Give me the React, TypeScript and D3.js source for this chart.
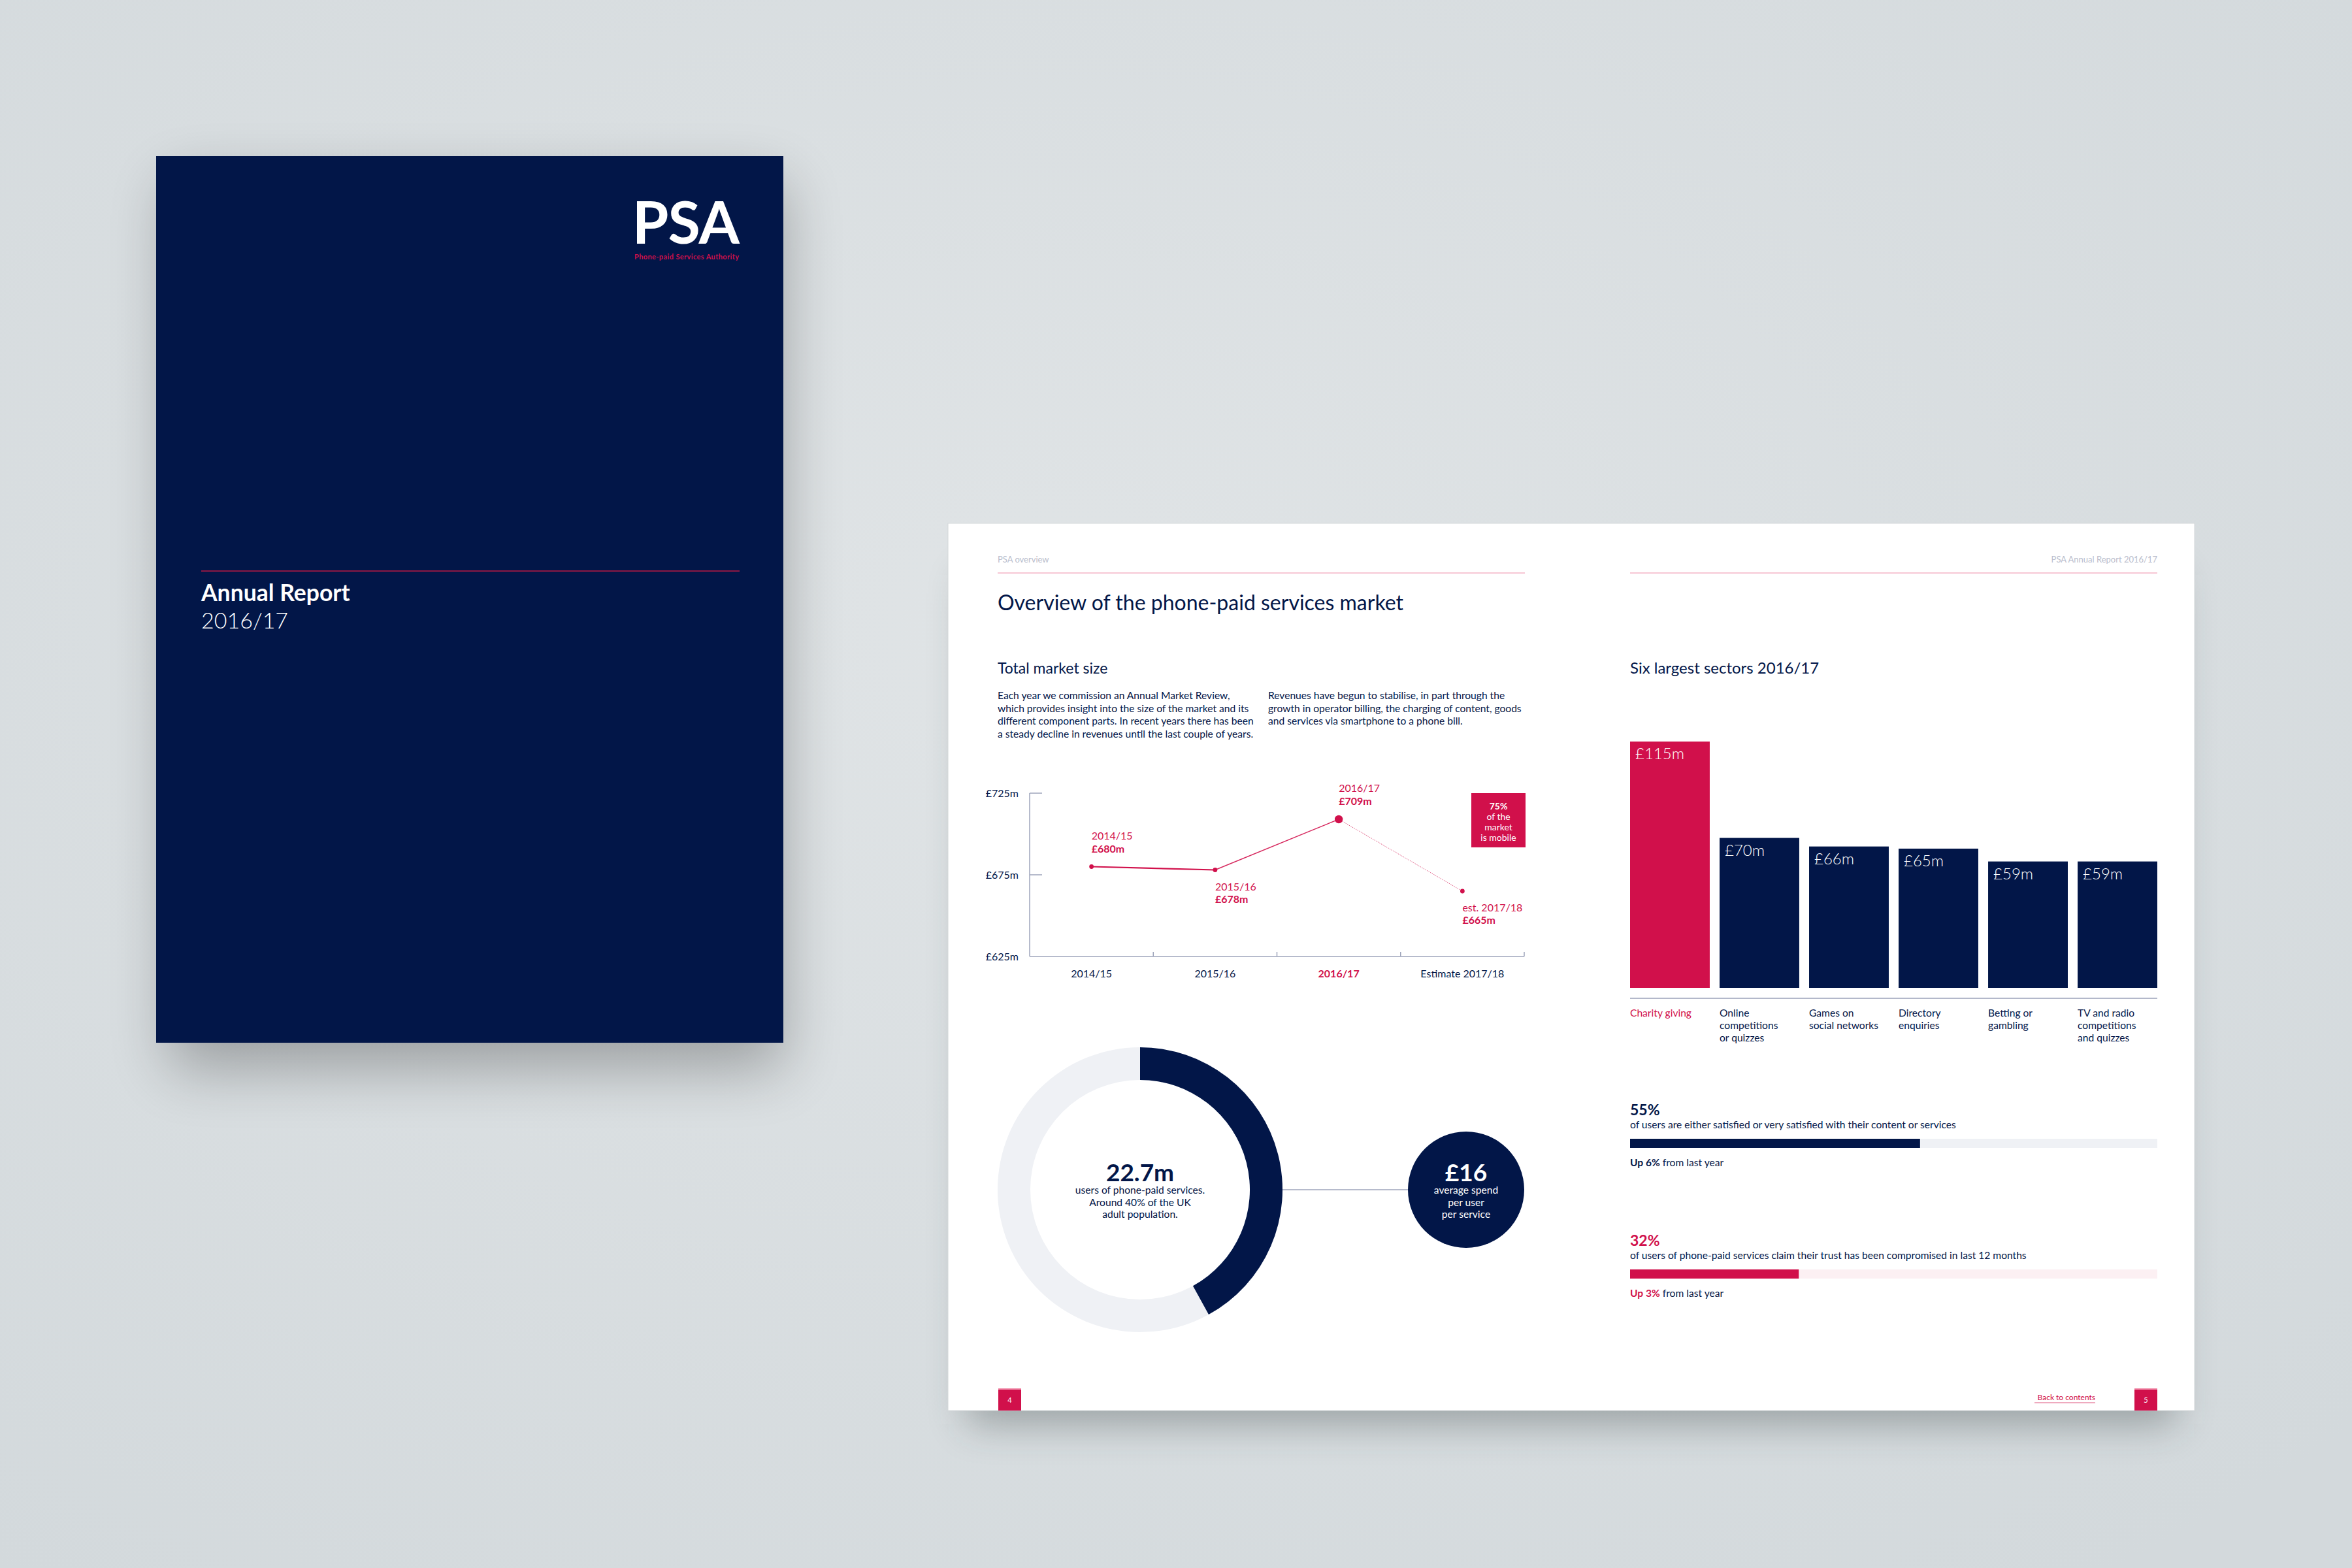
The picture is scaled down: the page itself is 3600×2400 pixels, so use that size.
import React from 'react';
import * as d3 from 'd3';

// ---- data ----
const marketYears = ['2014/15', '2015/16', '2016/17', 'Estimate 2017/18'];
const marketPointNames = ['2014/15', '2015/16', '2016/17', 'est. 2017/18'];
const marketValues = [680, 678, 709, 665];
const marketTicks = [625, 675, 725];
const highlightYear = '2016/17';

const sectorNames = [
  ['Charity giving'],
  ['Online', 'competitions', 'or quizzes'],
  ['Games on', 'social networks'],
  ['Directory', 'enquiries'],
  ['Betting or', 'gambling'],
  ['TV and radio', 'competitions', 'and quizzes'],
];
const sectorValues = [115, 70, 66, 65, 59, 59];

const usersMillions = 22.7;
const usersShare = 0.42;
const avgSpend = 16;

const satisfiedPct = 55;
const satisfiedChange = 6;
const trustPct = 32;
const trustChange = 3;

const introLeft = [
  'Each year we commission an Annual Market Review,',
  'which provides insight into the size of the market and its',
  'different component parts. In recent years there has been',
  'a steady decline in revenues until the last couple of years.',
];
const introRight = [
  'Revenues have begun to stabilise, in part through the',
  'growth in operator billing, the charging of content, goods',
  'and services via smartphone to a phone bill.',
];

const NAVY = '#021648';
const RED = '#d1104b';
const FONT = 'Lato, "Noto Sans", sans-serif';

const W = 3600;
const H = 2400;

export default function App() {
  // line chart scales
  const x = d3.scaleBand().domain(marketYears).range([1576, 2333]).padding(0);
  const y = d3.scaleLinear().domain([625, 725]).range([1464, 1214]);
  const pts = marketValues.map((v, i) => ({
    x: (x(marketYears[i]) as number) + x.bandwidth() / 2,
    y: y(v),
    v,
    name: marketPointNames[i],
  }));
  const line = d3.line<{ x: number; y: number }>().x((d) => d.x).y((d) => d.y);

  // bar chart scales
  const xb = d3
    .scaleBand<number>()
    .domain(sectorValues.map((_, i) => i))
    .range([2495, 3302])
    .paddingInner(0.11)
    .paddingOuter(0);
  const yb = d3.scaleLinear().domain([0, 115]).range([1512, 1135]);

  // progress bars
  const xp = d3.scaleLinear().domain([0, 100]).range([2495, 3302]);

  // donut
  const cx = 1745;
  const cy = 1821;
  const ring = d3.arc<any>().innerRadius(168).outerRadius(218);
  const fullRing = ring({ startAngle: 0, endAngle: Math.PI * 2 }) as string;
  const usersArc = ring({ startAngle: 0, endAngle: Math.PI * 2 * usersShare }) as string;

  const body = 15.6;

  return (
    <svg
      width={W}
      height={H}
      viewBox={`0 0 ${W} ${H}`}
      style={{ position: 'absolute', left: 0, top: 0, display: 'block' }}
      fontFamily={FONT}
    >
      <defs>
        <radialGradient id="bg" cx="45%" cy="40%" r="75%">
          <stop offset="0%" stopColor="#e0e4e6" />
          <stop offset="100%" stopColor="#d3d9dc" />
        </radialGradient>
        <filter id="soft" x="-30%" y="-30%" width="160%" height="160%">
          <feGaussianBlur stdDeviation="45" />
        </filter>
        <filter id="soft2" x="-30%" y="-30%" width="160%" height="160%">
          <feGaussianBlur stdDeviation="30" />
        </filter>
      </defs>

      <rect width={W} height={H} fill="url(#bg)" />

      {/* cover */}
      <rect x={259} y={279} width={940} height={1357} fill="#000" opacity={0.28} filter="url(#soft)" />
      <rect x={239} y={239} width={960} height={1357} fill={NAVY} />
      <text x={1131} y={373} textAnchor="end" fill="#fff" fontSize={90} fontWeight={700} letterSpacing={-1}>
        PSA
      </text>
      <text x={1131} y={397} textAnchor="end" fill={RED} fontSize={11} fontWeight={700} textLength={160}>
        Phone-paid Services Authority
      </text>
      <line x1={308} x2={1132} y1={874} y2={874} stroke="#8c1844" strokeWidth={2} />
      <text x={308} y={920} fill="#fff" fontSize={35.5} fontWeight={700}>
        Annual Report
      </text>
      <text x={308} y={962} fill="#fff" fontSize={34} fontWeight={300}>
        2016/17
      </text>

      {/* spread */}
      <rect x={1480} y={880} width={1850} height={1300} fill="#2a3436" opacity={0.35} filter="url(#soft2)" />
      <rect x={1451} y={801} width={1908} height={1358} fill="#fff" stroke="#d4d8da" strokeWidth={1} />

      {/* left page header */}
      <text x={1527} y={861} fill="#b9bdcc" fontSize={13}>PSA overview</text>
      <line x1={1527} x2={2334} y1={877} y2={877} stroke="#f7c7d5" strokeWidth={2} />
      <text x={1527} y={934} fill={NAVY} fontSize={32}>
        Overview of the phone-paid services market
      </text>
      <text x={1527} y={1031} fill={NAVY} fontSize={23}>
        Total market size
      </text>
      {introLeft.map((t, i) => (
        <text key={'l' + i} x={1527} y={1070 + i * 19.5} fill={NAVY} fontSize={body}>
          {t}
        </text>
      ))}
      {introRight.map((t, i) => (
        <text key={'r' + i} x={1941} y={1070 + i * 19.5} fill={NAVY} fontSize={body}>
          {t}
        </text>
      ))}

      {/* line chart axes */}
      <line x1={1576} x2={1576} y1={y(725)} y2={y(625)} stroke="#9ea4bb" strokeWidth={1.5} />
      <line x1={1576} x2={2333} y1={y(625)} y2={y(625)} stroke="#9ea4bb" strokeWidth={1.5} />
      {marketTicks.map((t) => (
        <g key={t}>
          {t !== 625 && <line x1={1576} x2={1595} y1={y(t)} y2={y(t)} stroke="#9ea4bb" strokeWidth={1.5} />}
          <text x={1559} y={y(t) + 6} textAnchor="end" fill={NAVY} fontSize={16}>
            £{t}m
          </text>
        </g>
      ))}
      {marketYears.map((yr) => (
        <g key={yr}>
          <line
            x1={(x(yr) as number) + x.bandwidth()}
            x2={(x(yr) as number) + x.bandwidth()}
            y1={y(625) - 7}
            y2={y(625)}
            stroke="#9ea4bb"
            strokeWidth={1.5}
          />
          <text
            x={(x(yr) as number) + x.bandwidth() / 2}
            y={1496}
            textAnchor="middle"
            fill={yr === highlightYear ? RED : NAVY}
            fontWeight={yr === highlightYear ? 700 : 400}
            fontSize={16}
          >
            {yr}
          </text>
        </g>
      ))}

      {/* line segments */}
      <path d={line(pts.slice(0, 2)) as string} stroke={RED} strokeWidth={2.2} fill="none" />
      <path d={line(pts.slice(1, 3)) as string} stroke={RED} strokeWidth={1.4} fill="none" opacity={0.9} />
      <path d={line(pts.slice(2, 4)) as string} stroke={RED} strokeWidth={1} strokeDasharray="1.5,1.5" fill="none" opacity={0.7} />
      {pts.map((p, i) => {
        const big = marketYears[i] === highlightYear;
        const above = i % 2 === 0;
        return (
          <g key={p.name}>
            <circle cx={p.x} cy={p.y} r={big ? 6.2 : 3.4} fill={RED} />
            <text x={p.x} y={above ? p.y - 42 : p.y + 31} fill={RED} fontSize={16}>
              {p.name}
            </text>
            <text x={p.x} y={above ? p.y - 22 : p.y + 50} fill={RED} fontSize={16} fontWeight={700}>
              £{p.v}m
            </text>
          </g>
        );
      })}

      {/* mobile callout */}
      <rect x={2252} y={1214} width={83} height={83} fill={RED} />
      <text x={2293.5} y={1239} textAnchor="middle" fill="#fff" fontSize={14} fontWeight={700}>75%</text>
      <text x={2293.5} y={1255} textAnchor="middle" fill="#fff" fontSize={14}>of the</text>
      <text x={2293.5} y={1271} textAnchor="middle" fill="#fff" fontSize={14}>market</text>
      <text x={2293.5} y={1287} textAnchor="middle" fill="#fff" fontSize={14}>is mobile</text>

      {/* donut */}
      <g transform={`translate(${cx},${cy})`}>
        <path d={fullRing} fill="#eff1f5" />
        <path d={usersArc} fill={NAVY} />
        <text y={-13} textAnchor="middle" fill={NAVY} fontSize={37} fontWeight={700}>
          {usersMillions}m
        </text>
        <text y={6} textAnchor="middle" fill={NAVY} fontSize={body}>users of phone-paid services.</text>
        <text y={25} textAnchor="middle" fill={NAVY} fontSize={body}>Around 40% of the UK</text>
        <text y={43} textAnchor="middle" fill={NAVY} fontSize={body}>adult population.</text>
      </g>
      <line x1={cx + 218} x2={2155} y1={cy} y2={cy} stroke="#9ea4bb" strokeWidth={1.5} />
      <circle cx={2244} cy={cy} r={89} fill={NAVY} />
      <text x={2244} y={cy - 13} textAnchor="middle" fill="#fff" fontSize={37} fontWeight={700}>
        £{avgSpend}
      </text>
      <text x={2244} y={cy + 6} textAnchor="middle" fill="#fff" fontSize={body}>average spend</text>
      <text x={2244} y={cy + 25} textAnchor="middle" fill="#fff" fontSize={body}>per user</text>
      <text x={2244} y={cy + 43} textAnchor="middle" fill="#fff" fontSize={body}>per service</text>

      {/* right page header */}
      <text x={3302} y={861} textAnchor="end" fill="#b9bdcc" fontSize={13}>PSA Annual Report 2016/17</text>
      <line x1={2495} x2={3302} y1={877} y2={877} stroke="#f7c7d5" strokeWidth={2} />
      <text x={2495} y={1031} fill={NAVY} fontSize={24}>
        Six largest sectors 2016/17
      </text>

      {/* bars */}
      {sectorValues.map((v, i) => {
        const bx = xb(i) as number;
        const fill = i === 0 ? RED : NAVY;
        return (
          <g key={i}>
            <rect x={bx} y={yb(v)} width={xb.bandwidth()} height={yb(0) - yb(v)} fill={fill} />
            <text x={bx + 8} y={yb(v) + 27} fill="#fff" fontSize={24} fontWeight={300}>
              £{v}m
            </text>
            {sectorNames[i].map((t, j) => (
              <text key={j} x={bx} y={1556 + j * 19} fill={i === 0 ? RED : NAVY} fontSize={body}>
                {t}
              </text>
            ))}
          </g>
        );
      })}
      <line x1={2495} x2={3302} y1={1528} y2={1528} stroke="#b3b8ca" strokeWidth={2} />

      {/* progress bars */}
      <text x={2495} y={1707} fill={NAVY} fontSize={23} fontWeight={700}>{satisfiedPct}%</text>
      <text x={2495} y={1727} fill={NAVY} fontSize={body}>
        of users are either satisfied or very satisfied with their content or services
      </text>
      <rect x={xp(0)} y={1743} width={xp(100) - xp(0)} height={14} fill="#eff1f5" />
      <rect x={xp(0)} y={1743} width={xp(satisfiedPct) - xp(0)} height={14} fill={NAVY} />
      <text x={2495} y={1785} fill={NAVY} fontSize={body}>
        <tspan fontWeight={700}>Up {satisfiedChange}%</tspan> from last year
      </text>

      <text x={2495} y={1907} fill={RED} fontSize={23} fontWeight={700}>{trustPct}%</text>
      <text x={2495} y={1927} fill={NAVY} fontSize={body}>
        of users of phone-paid services claim their trust has been compromised in last 12 months
      </text>
      <rect x={xp(0)} y={1943} width={xp(100) - xp(0)} height={14} fill="#fcf0f3" />
      <rect x={xp(0)} y={1943} width={xp(trustPct) - xp(0)} height={14} fill={RED} />
      <text x={2495} y={1985} fill={NAVY} fontSize={body}>
        <tspan fontWeight={700} fill={RED}>Up {trustChange}%</tspan> from last year
      </text>

      {/* footer */}
      <rect x={1528} y={2125} width={35} height={34} fill={RED} />
      <rect x={1528} y={2125} width={35} height={2} fill="#f08aa8" />
      <text x={1545.5} y={2147} textAnchor="middle" fill="#fff" fontSize={11}>4</text>
      <rect x={3267} y={2125} width={35} height={34} fill={RED} />
      <rect x={3267} y={2125} width={35} height={2} fill="#f08aa8" />
      <text x={3284.5} y={2147} textAnchor="middle" fill="#fff" fontSize={11}>5</text>
      <text x={3207} y={2143} textAnchor="end" fill={RED} fontSize={12}>Back to contents</text>
      <line x1={3114} x2={3207} y1={2147} y2={2147} stroke={RED} strokeWidth={1.2} opacity={0.7} />
    </svg>
  );
}
